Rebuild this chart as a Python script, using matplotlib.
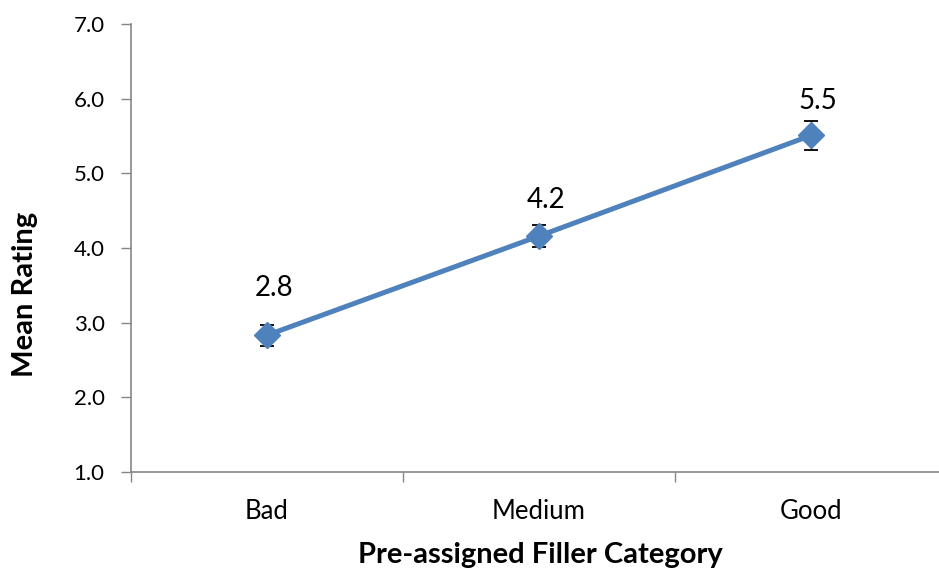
import matplotlib
matplotlib.use("Agg")
import matplotlib.pyplot as plt
from matplotlib.ticker import FixedLocator

categories = ["Bad", "Medium", "Good"]
means = [2.83, 4.16, 5.51]
errors = [0.14, 0.15, 0.19]
labels = ["2.8", "4.2", "5.5"]
yticks = [1.0, 2.0, 3.0, 4.0, 5.0, 6.0, 7.0]

# layout: label offsets in points above each point
label_dy = [34, 26, 25]

plt.rcParams['font.family'] = ['Lato', 'DejaVu Sans']

W, H = 939, 571
fig = plt.figure(figsize=(W / 100, H / 100), dpi=100)
left, right, top, bottom = 131, 939, 24.3, 471.7
ax = fig.add_axes([left / W, 1 - bottom / H, (right - left) / W, (bottom - top) / H])

x = list(range(len(categories)))
blue = "#4F81BD"
ax.errorbar(x, means, yerr=errors, fmt="none", ecolor="black", elinewidth=1,
            capsize=5, capthick=1.3, zorder=2)
ax.plot(x, means, color=blue, lw=3.6, marker="D", markersize=13, zorder=3)
for xi, m, lab, dy in zip(x, means, labels, label_dy):
    ax.annotate(lab, (xi, m), xytext=(5, dy), textcoords="offset points",
                ha="center", va="center", fontsize=20, color="black")

ax.set_ylim(1.0, 7.0)
ax.set_xlim(-0.5, (right - left) / 272 - 0.5)
ax.set_yticks(yticks)
ax.set_yticklabels([f"{v:.1f}" for v in yticks], fontsize=16)
ax.set_xticks(x)
ax.set_xticklabels(categories, fontsize=18.5)
ax.xaxis.set_minor_locator(FixedLocator([-0.5, 0.5, 1.5, 2.5]))
ax.tick_params(axis="x", which="major", length=0, pad=20)
ax.tick_params(axis="x", which="minor", length=7, width=1, color="#868686", direction="out")
ax.tick_params(axis="y", length=7, width=1, color="#868686", direction="out", pad=12)

for s in ["top", "right"]:
    ax.spines[s].set_visible(False)
for s in ["left", "bottom"]:
    ax.spines[s].set_color("#868686")
    ax.spines[s].set_linewidth(1.2)

ax.set_xlabel("Pre-assigned Filler Category", fontsize=21, fontweight="bold", va="center")
ax.set_ylabel("Mean Rating", fontsize=21, fontweight="bold", va="center")
ax.xaxis.set_label_coords((540 - left) / (right - left), -(555 - bottom) / (bottom - top))
ax.yaxis.set_label_coords(-(left - 25) / (right - left), (bottom - 294) / (bottom - top))

fig.savefig("out.png", dpi=100)
